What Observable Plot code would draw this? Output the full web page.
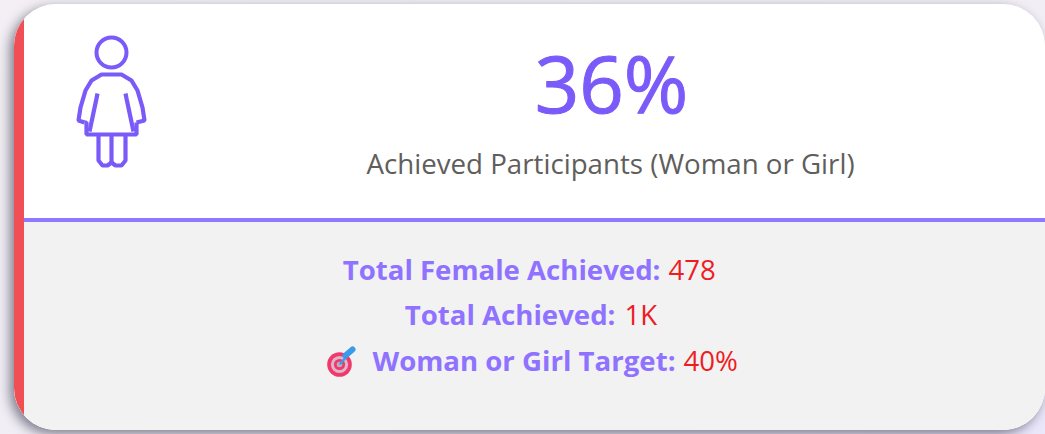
<!DOCTYPE html>
<html><head><meta charset="utf-8">
<script src="https://cdn.jsdelivr.net/npm/d3@7"></script>
<script src="https://cdn.jsdelivr.net/npm/@observablehq/plot@0.6"></script>
<style>
html,body{margin:0;padding:0;width:1045px;height:434px;overflow:hidden;background:linear-gradient(160deg,#f3eff4 0%,#f1eef6 60%,#ebe7fa 100%)}
#card{position:absolute;left:14px;top:4px;width:1031px;height:426px;border-radius:42px;overflow:hidden;background:#fff}
#bar{position:absolute;left:0;top:0;bottom:0;width:10px;background:#f05055;z-index:2}
#low{position:absolute;left:0;right:0;top:214px;bottom:0;background:#f2f2f2;border-top:4px solid #8f78ff;box-sizing:border-box}
#shadow{position:absolute;left:14px;top:4px;width:1031px;height:426px;border-radius:42px;box-shadow:-4px 4px 12px rgba(50,50,70,.6)}
#plot{position:absolute;left:0;top:0}
svg{background:transparent!important;display:block}
</style></head><body>
<div id="shadow"></div>
<div id="card"><div id="bar"></div><div id="low"></div></div>
<div id="plot"></div>
<script>
const kpiValue = "36%";
const kpiLabel = "Achieved Participants (Woman or Girl)";
const rowLabels = ["Total Female Achieved:", "Total Achieved:", "Woman or Girl Target:"];
const rowValues = ["478", "1K", "40%"];
const rowY = [271, 316, 362];
const rowLabelEnd = [660, 615, 675];
const rowValueStart = [668, 624, 683];

const iconLines = [
  [[84,122],[78,120],[80,107],[85,90],[91,80],[101,74],[121,74],[131,80],[137,90],[142,107],[144,120],[136,122]],
  [[84,122],[86,122],[86,134],[136,134],[136,122]],
  [[97,93],[96,98],[89,131]],
  [[125,93],[126,98],[133,131]],
  [[98,134],[98,160],[102,165],[107,165],[111,162],[115,165],[121,165],[125,160],[125,134]],
  [[111,134],[111,162]]
];
const iconRows = iconLines.flatMap((pts, k) => pts.map(([x, y]) => ({x, y, k})));

// Target emoji, as concentric rings and an arrow
const targetRings = [
  {x: 339, y: 364, r: 12.3, c: "#f0386b"},
  {x: 339, y: 364, r: 8.6, c: "#dcb6cc"},
  {x: 339, y: 364, r: 5.6, c: "#f0386b"},
  {x: 339, y: 364, r: 2.8, c: "#b9b2bc"}
];
const arrowShaft = [{x: 340, y: 363}, {x: 347, y: 355}];
const arrowFletch = [{x: 345, y: 355}, {x: 352, y: 349}];

const purple = "#7a5af8", label = "#8f72ff", red = "#ee1c25";
const font = "'Open Sans','Noto Sans',sans-serif";

const rows = rowLabels.map((t, i) => ({t, v: rowValues[i], y: rowY[i], xe: rowLabelEnd[i], xs: rowValueStart[i]}));

const chart = Plot.plot({
  width: 1045, height: 434, margin: 0,
  x: {domain: [0, 1045], range: [0, 1045], axis: null},
  y: {domain: [0, 434], range: [0, 434], axis: null},
  r: {type: "identity"},
  style: {background: "transparent", fontFamily: font},
  marks: [
    Plot.dot([{x: 111, y: 52}], {x: "x", y: "y", r: 15, stroke: purple, strokeWidth: 4, fill: "none"}),
    Plot.line(iconRows, {x: "x", y: "y", z: "k", stroke: purple, strokeWidth: 4.2, strokeLinejoin: "miter", strokeLinecap: "butt"}),
    Plot.text([kpiValue], {x: () => 611, y: () => 88, text: d => d, fontSize: 78, fill: purple, stroke: purple, strokeWidth: 1, fontFamily: font}),
    Plot.text([kpiLabel], {x: () => 610, y: () => 165, text: d => d, fontSize: 27.7, fill: "#605e5c", fontFamily: font}),
    Plot.text(rows, {x: "xe", y: "y", text: "t", textAnchor: "end", fontSize: 27.6, fontWeight: 700, fill: label, fontFamily: font}),
    Plot.text(rows, {x: "xs", y: "y", text: "v", textAnchor: "start", fontSize: 27.6, fill: red, fontFamily: font}),
    Plot.dot(targetRings, {x: "x", y: "y", r: "r", fill: "c"}),
    Plot.line(arrowShaft, {x: "x", y: "y", stroke: "#3a9be8", strokeWidth: 2.5}),
    Plot.line(arrowFletch, {x: "x", y: "y", stroke: "#3a9be8", strokeWidth: 6})
  ]
});
document.getElementById("plot").append(chart);
</script></body></html>
